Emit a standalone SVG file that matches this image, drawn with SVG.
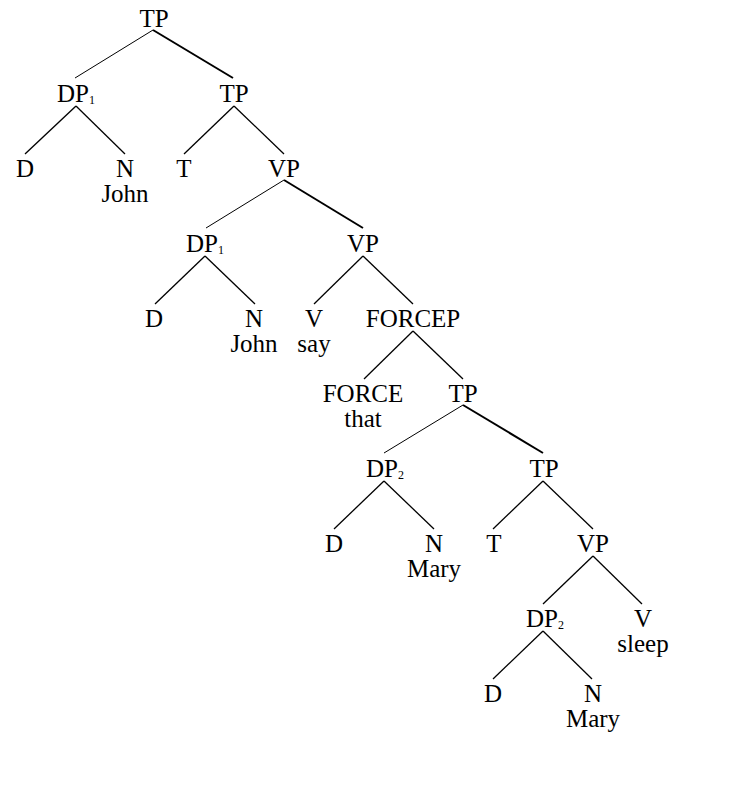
<svg xmlns="http://www.w3.org/2000/svg" width="738" height="795" viewBox="0 0 738 795">
<style>
text{font-family:"Liberation Serif","Times New Roman",serif;font-size:25px;fill:#000;text-anchor:middle}
.sub{font-size:12px}
line{stroke:#000;stroke-linecap:butt}
.l{stroke-width:1}
.r{stroke-width:2}
.s{stroke-width:1.3}
</style>
<rect width="738" height="795" fill="#fff"/>
<g id="connectors">
<line class="l" x1="153" y1="30" x2="75" y2="78"/>
<line class="r" x1="153" y1="30" x2="233" y2="78"/>
<line class="s" x1="76" y1="106" x2="25" y2="154"/>
<line class="s" x1="76" y1="106" x2="125" y2="154"/>
<line class="s" x1="234" y1="106" x2="184" y2="154"/>
<line class="s" x1="234" y1="106" x2="284" y2="154"/>
<line class="l" x1="284" y1="180" x2="206" y2="228"/>
<line class="r" x1="284" y1="180" x2="363" y2="228"/>
<line class="s" x1="205" y1="256" x2="155" y2="304"/>
<line class="s" x1="205" y1="256" x2="255" y2="304"/>
<line class="s" x1="363" y1="256" x2="314" y2="304"/>
<line class="s" x1="363" y1="256" x2="413" y2="304"/>
<line class="s" x1="413" y1="331" x2="364" y2="379"/>
<line class="s" x1="413" y1="331" x2="463" y2="379"/>
<line class="l" x1="463" y1="405" x2="384" y2="453"/>
<line class="r" x1="463" y1="405" x2="543" y2="453"/>
<line class="s" x1="384" y1="481" x2="334" y2="529"/>
<line class="s" x1="384" y1="481" x2="434" y2="529"/>
<line class="s" x1="543" y1="481" x2="493" y2="529"/>
<line class="s" x1="543" y1="481" x2="593" y2="529"/>
<line class="s" x1="593" y1="556" x2="543" y2="604"/>
<line class="s" x1="593" y1="556" x2="642" y2="604"/>
<line class="s" x1="543" y1="631" x2="493" y2="679"/>
<line class="s" x1="543" y1="631" x2="592" y2="679"/>
</g>
<g id="tp0"><text x="154" y="27">TP</text></g>
<g id="dp1a"><text x="76" y="102">DP<tspan class="sub" dy="2">1</tspan></text></g>
<g id="tp1"><text x="234" y="102">TP</text></g>
<g id="d1"><text x="25" y="177">D</text></g>
<g id="n1"><text x="125" y="177">N<tspan x="125" dy="25">John</tspan></text></g>
<g id="t1"><text x="184" y="177">T</text></g>
<g id="vp1"><text x="284" y="177">VP</text></g>
<g id="dp1b"><text x="205" y="252">DP<tspan class="sub" dy="2">1</tspan></text></g>
<g id="vp2"><text x="363" y="252">VP</text></g>
<g id="d2"><text x="154" y="327">D</text></g>
<g id="n2"><text x="254" y="327">N<tspan x="254" dy="25">John</tspan></text></g>
<g id="v1"><text x="314" y="327">V<tspan x="314" dy="25">say</tspan></text></g>
<g id="forcep"><text x="413" y="327">FORCEP</text></g>
<g id="force"><text x="363" y="402">FORCE<tspan x="363" dy="25">that</tspan></text></g>
<g id="tp2"><text x="463" y="402">TP</text></g>
<g id="dp2a"><text x="385" y="477">DP<tspan class="sub" dy="2">2</tspan></text></g>
<g id="tp3"><text x="544" y="477">TP</text></g>
<g id="d3"><text x="334" y="552">D</text></g>
<g id="n3"><text x="434" y="552">N<tspan x="434" dy="25">Mary</tspan></text></g>
<g id="t2"><text x="494" y="552">T</text></g>
<g id="vp3"><text x="593" y="552">VP</text></g>
<g id="dp2b"><text x="545" y="627">DP<tspan class="sub" dy="2">2</tspan></text></g>
<g id="v2"><text x="643" y="627">V<tspan x="643" dy="25">sleep</tspan></text></g>
<g id="d4"><text x="493" y="702">D</text></g>
<g id="n4"><text x="593" y="702">N<tspan x="593" dy="25">Mary</tspan></text></g>
</svg>
